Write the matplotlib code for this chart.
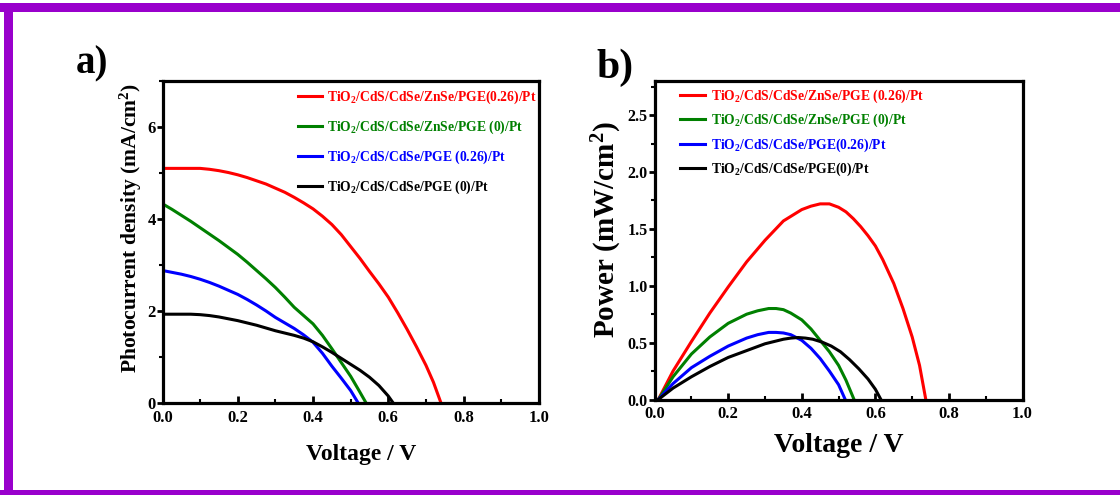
import numpy as np
import matplotlib
matplotlib.use("Agg")
import matplotlib.pyplot as plt
from matplotlib.patches import Rectangle
from matplotlib.ticker import MultipleLocator, FormatStrFormatter

plt.rcParams['font.family'] = 'Liberation Serif'
plt.rcParams['font.weight'] = 'bold'
plt.rcParams['axes.labelweight'] = 'bold'
plt.rcParams['mathtext.default'] = 'regular'

# etiquetas de las muestras
labels_a = [r"TiO$_2$/CdS/CdSe/ZnSe/PGE(0.26)/Pt",
            r"TiO$_2$/CdS/CdSe/ZnSe/PGE (0)/Pt",
            r"TiO$_2$/CdS/CdSe/PGE (0.26)/Pt",
            r"TiO$_2$/CdS/CdSe/PGE (0)/Pt"]
labels_b = [r"TiO$_2$/CdS/CdSe/ZnSe/PGE (0.26)/Pt",
            r"TiO$_2$/CdS/CdSe/ZnSe/PGE (0)/Pt",
            r"TiO$_2$/CdS/CdSe/PGE(0.26)/Pt",
            r"TiO$_2$/CdS/CdSe/PGE(0)/Pt"]
colores = ['#ff0000', '#008000', '#0000ff', '#000000']

# a) J-V ----------------------------------------------------------------------
v_red = [0, 0.025, 0.05, 0.075, 0.10, 0.125, 0.15, 0.175, 0.20, 0.225, 0.25, 0.275, 0.30,
         0.325, 0.35, 0.375, 0.40, 0.425, 0.45, 0.475, 0.50, 0.525, 0.55, 0.575, 0.60,
         0.625, 0.65, 0.675, 0.70, 0.72, 0.74]
j_red = [5.10, 5.10, 5.10, 5.10, 5.10, 5.08, 5.05, 5.01, 4.96, 4.90, 4.83, 4.76, 4.67,
         4.58, 4.47, 4.35, 4.22, 4.06, 3.88, 3.66, 3.40, 3.14, 2.86, 2.59, 2.30,
         1.96, 1.60, 1.22, 0.82, 0.45, 0.0]
v_green = [0, 0.025, 0.05, 0.075, 0.10, 0.125, 0.15, 0.175, 0.20, 0.225, 0.25, 0.275, 0.30,
           0.325, 0.35, 0.375, 0.40, 0.425, 0.45, 0.475, 0.50, 0.52, 0.541]
j_green = [4.33, 4.21, 4.08, 3.95, 3.81, 3.67, 3.53, 3.38, 3.23, 3.06, 2.88, 2.70, 2.51,
           2.30, 2.08, 1.90, 1.72, 1.47, 1.18, 0.88, 0.58, 0.30, 0.0]
v_blue = [0, 0.025, 0.05, 0.075, 0.10, 0.125, 0.15, 0.175, 0.20, 0.225, 0.25, 0.275, 0.30,
          0.325, 0.35, 0.375, 0.40, 0.425, 0.45, 0.475, 0.50, 0.52]
j_blue = [2.88, 2.84, 2.80, 2.75, 2.69, 2.62, 2.54, 2.45, 2.36, 2.25, 2.13, 2.00, 1.86,
          1.74, 1.62, 1.48, 1.32, 1.08, 0.80, 0.54, 0.27, 0.0]
v_black = [0, 0.025, 0.05, 0.075, 0.10, 0.125, 0.15, 0.175, 0.20, 0.225, 0.25, 0.275, 0.30,
           0.325, 0.35, 0.375, 0.40, 0.425, 0.45, 0.475, 0.50, 0.525, 0.55, 0.575, 0.60, 0.613]
j_black = [1.93, 1.93, 1.93, 1.93, 1.92, 1.90, 1.87, 1.83, 1.79, 1.74, 1.69, 1.63, 1.57,
           1.52, 1.47, 1.41, 1.33, 1.22, 1.10, 0.97, 0.84, 0.71, 0.56, 0.38, 0.15, 0.0]

# b) P-V ----------------------------------------------------------------------
pv_red = [0.01, 0.05, 0.10, 0.15, 0.20, 0.25, 0.30, 0.35, 0.40, 0.425, 0.45, 0.475, 0.50,
          0.52, 0.54, 0.56, 0.58, 0.60, 0.62, 0.65, 0.675, 0.70, 0.72, 0.737]
p_red = [0, 0.25, 0.51, 0.76, 0.99, 1.21, 1.40, 1.57, 1.67, 1.70, 1.72, 1.72, 1.69,
         1.65, 1.59, 1.52, 1.44, 1.35, 1.23, 1.02, 0.80, 0.55, 0.30, 0.0]
pv_green = [0.01, 0.05, 0.10, 0.15, 0.20, 0.25, 0.28, 0.31, 0.33, 0.35, 0.37, 0.40, 0.425,
            0.45, 0.475, 0.50, 0.52, 0.542]
p_green = [0, 0.20, 0.40, 0.55, 0.67, 0.75, 0.78, 0.80, 0.80, 0.79, 0.76, 0.70, 0.62,
           0.52, 0.42, 0.30, 0.17, 0.0]
pv_blue = [0.01, 0.05, 0.10, 0.15, 0.20, 0.25, 0.28, 0.31, 0.33, 0.35, 0.37, 0.40, 0.425,
           0.45, 0.475, 0.50, 0.518]
p_blue = [0, 0.14, 0.28, 0.38, 0.47, 0.54, 0.57, 0.59, 0.59, 0.585, 0.57, 0.52, 0.45,
          0.36, 0.25, 0.13, 0.0]
pv_black = [0.01, 0.05, 0.10, 0.15, 0.20, 0.25, 0.30, 0.35, 0.37, 0.39, 0.41, 0.43, 0.455,
            0.48, 0.505, 0.53, 0.555, 0.58, 0.60, 0.615]
p_black = [0, 0.10, 0.20, 0.29, 0.37, 0.43, 0.49, 0.53, 0.54, 0.545, 0.54, 0.53, 0.505,
           0.47, 0.42, 0.35, 0.27, 0.18, 0.09, 0.0]

fig = plt.figure(figsize=(11.2, 4.95), dpi=100)

# marco violeta
purple = '#9900cc'
fig.patches.append(Rectangle((0, 1 - 12/495), 1, 9/495, transform=fig.transFigure,
                             facecolor=purple, edgecolor='none'))
fig.patches.append(Rectangle((4/1120, 0), 9/1120, 1 - 3/495, transform=fig.transFigure,
                             facecolor=purple, edgecolor='none'))
fig.patches.append(Rectangle((0, 0), 1, 5/495, transform=fig.transFigure,
                             facecolor=purple, edgecolor='none'))

ax1 = fig.add_axes([0.1451, 0.1859, 0.3360, 0.6505])
ax2 = fig.add_axes([0.5845, 0.1929, 0.3285, 0.6434])

datos_a = [(v_red, j_red), (v_green, j_green), (v_blue, j_blue), (v_black, j_black)]
datos_b = [(pv_red, p_red), (pv_green, p_green), (pv_blue, p_blue), (pv_black, p_black)]

for (x, y), c, lab in zip(datos_a, colores, labels_a):
    ax1.plot(x, y, color=c, lw=2.2, label=lab)
for (x, y), c, lab in zip(datos_b, colores, labels_b):
    ax2.plot(x, y, color=c, lw=2.2, label=lab)

for ax in (ax1, ax2):
    ax.set_xlim(0, 1.0)
    ax.xaxis.set_major_locator(MultipleLocator(0.2))
    ax.xaxis.set_minor_locator(MultipleLocator(0.1))
    ax.xaxis.set_major_formatter(FormatStrFormatter('%.1f'))
    for s in ax.spines.values():
        s.set_linewidth(2.3)
    ax.tick_params(axis='x', which='major', direction='in', length=5, width=2, labelsize=12, pad=5)
    ax.tick_params(axis='x', which='minor', direction='in', length=3, width=1.5)
    ax.tick_params(axis='y', which='major', direction='out', length=4, width=2, labelsize=12, pad=1)
    ax.tick_params(axis='y', which='minor', direction='out', length=3, width=1.5)

ax1.set_ylim(0, 7)
ax1.yaxis.set_major_locator(MultipleLocator(2))
ax1.yaxis.set_minor_locator(MultipleLocator(1))
ax2.set_ylim(0, 2.8)
ax2.yaxis.set_major_locator(MultipleLocator(0.5))
ax2.yaxis.set_minor_locator(MultipleLocator(0.25))
ax2.yaxis.set_major_formatter(FormatStrFormatter('%.1f'))
ax2.tick_params(axis='y', which='major', labelsize=11.5)

# ejes
ax1.set_ylabel(r"Photocurrent density (mA/cm$^2$)", fontsize=15.5, va='center')
ax1.yaxis.set_label_coords(-0.083, 0.543)
ax1.set_xlabel("Voltage / V", fontsize=17, va='center')
ax1.xaxis.set_label_coords(0.528, -0.161)
ax2.set_ylabel(r"Power (mW/cm$^2$)", fontsize=21, va='center')
ax2.yaxis.set_label_coords(-0.13, 0.532)
ax2.set_xlabel("Voltage / V", fontsize=20, va='center')
ax2.xaxis.set_label_coords(0.5, -0.143)

# leyendas
ax1.legend(loc='upper left', bbox_to_anchor=(0.36, 0.975), frameon=False, fontsize=9.8,
           labelcolor='linecolor', handlelength=1.8, handletextpad=0.35,
           labelspacing=0.92, borderpad=0, borderaxespad=0)
ax2.legend(loc='upper left', bbox_to_anchor=(0.069, 0.98), frameon=False, fontsize=9.8,
           labelcolor='linecolor', handlelength=1.8, handletextpad=0.45,
           labelspacing=0.52, borderpad=0, borderaxespad=0)

fig.text(92/1120, 1 - 64/495, "a)", fontsize=28, ha='center', va='center')
fig.text(615/1120, 1 - 68/495, "b)", fontsize=30, ha='center', va='center')

fig.savefig("out.png", dpi=100)
